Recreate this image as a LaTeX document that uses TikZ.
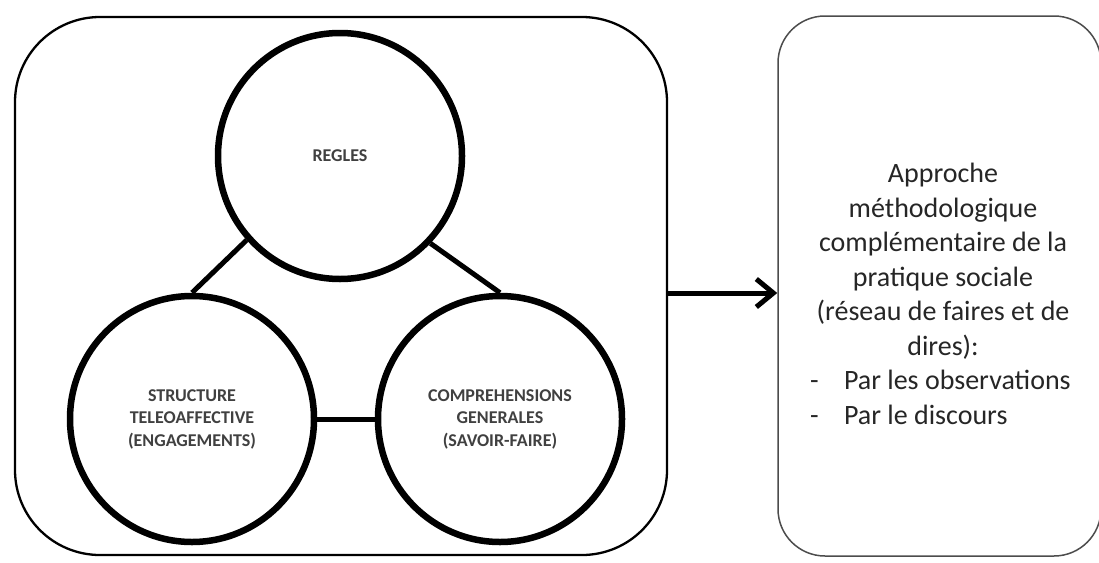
\documentclass[tikz,border=0pt]{standalone}
\usepackage{fontspec}
\setmainfont{Carlito}
\usetikzlibrary{arrows.meta,shapes.geometric}
\begin{document}
\begin{tikzpicture}[x=1pt,y=-1pt,
  frame/.style={draw, inner sep=0pt},
  ring/.style={draw, ellipse, line width=6.5pt, minimum width=244pt, minimum height=246pt,
    inner sep=0pt, align=center, font=\fontsize{18}{22.5}\selectfont\bfseries, text=black!75},
  link/.style={line width=5pt},
  bigtext/.style={align=center, font=\fontsize{28}{34.5}\selectfont, text=black!85, inner sep=0pt},
]
\useasboundingbox[fill=white] (0,0) rectangle (1099,562);
\begin{scope}
\clip (0,0) rectangle (1099,562);
% outer boxes
\node[frame, rounded corners=85pt, line width=2.3pt, minimum width=652pt, minimum height=538pt] (L) at (341,286) {};
\node[frame, rounded corners=47pt, line width=1.5pt, draw=black!70, minimum width=323pt, minimum height=540pt] (R) at (939.5,286) {};
% circles
\node[ring] (r) at (340,156) {REGLES};
\node[ring] (s) at (192,419) {STRUCTURE\\TELEOAFFECTIVE\\(ENGAGEMENTS)};
\node[ring] (c) at (500,419) {COMPREHENSIONS\\GENERALES\\(SAVOIR-FAIRE)};
% connectors
\draw[link] (r.222) -- (s.north);
\draw[link] (r.316) -- (c.north);
\draw[link] (s.east) -- (c.west);
% arrow
\draw[link, -{Straight Barb[length=17pt,width=28pt,line width=5pt]}] ([yshift=-7pt]L.east) -- ([yshift=-7pt]R.west);
% text
\node[bigtext] (t) at (943,294) {Approche\\méthodologique\\complémentaire de la\\pratique sociale\\(réseau de faires et de\\dires):\\
\makebox[266pt][l]{\makebox[34pt][l]{-}Par les observations}\\
\makebox[266pt][l]{\makebox[34pt][l]{-}Par le discours}};
\end{scope}
\end{tikzpicture}
\end{document}
